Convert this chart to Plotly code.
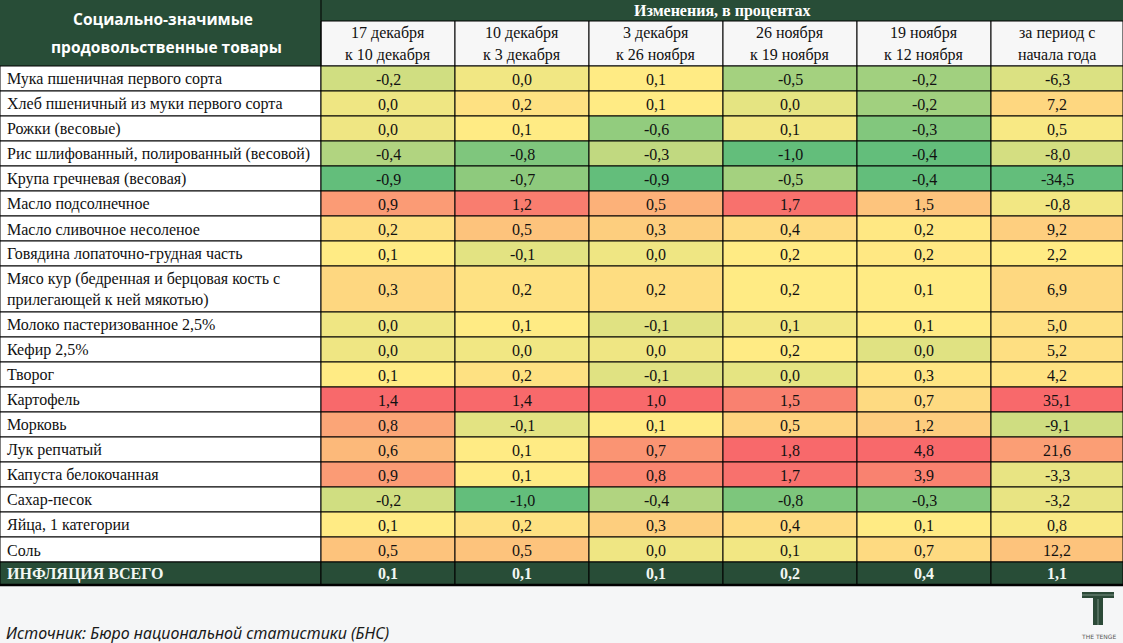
import numpy as np
import plotly.graph_objects as go

# ---------------- data ----------------
items = [
    "Мука пшеничная первого сорта",
    "Хлеб пшеничный из муки первого сорта",
    "Рожки (весовые)",
    "Рис шлифованный, полированный (весовой)",
    "Крупа гречневая (весовая)",
    "Масло подсолнечное",
    "Масло сливочное несоленое",
    "Говядина лопаточно-грудная часть",
    "Мясо кур (бедренная и берцовая кость с<br>прилегающей к ней мякотью)",
    "Молоко пастеризованное 2,5%",
    "Кефир 2,5%",
    "Творог",
    "Картофель",
    "Морковь",
    "Лук репчатый",
    "Капуста белокочанная",
    "Сахар-песок",
    "Яйца, 1 категории",
    "Соль",
]
period_line1 = ["17 декабря", "10 декабря", "3 декабря", "26 ноября", "19 ноября", "за период с"]
period_line2 = ["к 10 декабря", "к 3 декабря", "к 26 ноября", "к 19 ноября", "к 12 ноября", "начала года"]

dec17 = [-0.2, 0.0, 0.0, -0.4, -0.9, 0.9, 0.2, 0.1, 0.3, 0.0, 0.0, 0.1, 1.4, 0.8, 0.6, 0.9, -0.2, 0.1, 0.5]
dec10 = [0.0, 0.2, 0.1, -0.8, -0.7, 1.2, 0.5, -0.1, 0.2, 0.1, 0.0, 0.2, 1.4, -0.1, 0.1, 0.1, -1.0, 0.2, 0.5]
dec03 = [0.1, 0.1, -0.6, -0.3, -0.9, 0.5, 0.3, 0.0, 0.2, -0.1, 0.0, -0.1, 1.0, 0.1, 0.7, 0.8, -0.4, 0.3, 0.0]
nov26 = [-0.5, 0.0, 0.1, -1.0, -0.5, 1.7, 0.4, 0.2, 0.2, 0.1, 0.2, 0.0, 1.5, 0.5, 1.8, 1.7, -0.8, 0.4, 0.1]
nov19 = [-0.2, -0.2, -0.3, -0.4, -0.4, 1.5, 0.2, 0.2, 0.1, 0.1, 0.0, 0.3, 0.7, 1.2, 4.8, 3.9, -0.3, 0.1, 0.7]
ytd = [-6.3, 7.2, 0.5, -8.0, -34.5, -0.8, 9.2, 2.2, 6.9, 5.0, 5.2, 4.2, 35.1, -9.1, 21.6, -3.3, -3.2, 0.8, 12.2]
columns = [dec17, dec10, dec03, nov26, nov19, ytd]

total_label = "ИНФЛЯЦИЯ ВСЕГО"
total_values = [0.1, 0.1, 0.1, 0.2, 0.4, 1.1]

header_left = ["Социально-значимые", "продовольственные товары"]
header_top = "Изменения, в процентах"
source = "Источник: Бюро национальной статистики (БНС)"

# ---------------- style ----------------
W, H = 1123, 643
GREEN_DARK = "#284D37"
HDR2_BG = "#F7F7F7"
PAPER_BG = "#F5F6F7"
C_LOW, C_MID, C_HIGH = (99, 190, 123), (255, 235, 132), (248, 105, 107)
SERIF = "Liberation Serif"
SANS = "Open Sans"

col_w = [321, 134, 134, 134, 134, 134, 132]
x_edges = np.concatenate([[0], np.cumsum(col_w)])
hdr1_h, hdr2_h = 21, 45
single_h, double_h, total_h = 25, 46, 23


def fmt(v):
    return f"{v:.1f}".replace(".", ",")


def mix(a, b, t):
    return "rgb(%d,%d,%d)" % tuple(round(a[i] + (b[i] - a[i]) * t) for i in range(3))


def scale_color(v, lo, mid, hi):
    if v <= mid:
        t = 1.0 if mid == lo else (v - lo) / (mid - lo)
        return mix(C_LOW, C_MID, t)
    t = 0.0 if hi == mid else (v - mid) / (hi - mid)
    return mix(C_MID, C_HIGH, t)


shapes = []
annotations = []


def rect(x0, y0, x1, y1, fill, lw=1, lc="black"):
    shapes.append(dict(type="rect", xref="x", yref="y", x0=x0, y0=y0, x1=x1, y1=y1,
                       fillcolor=fill, line=dict(color=lc, width=lw), layer="above"))


def text(x, y, s, size=16, color="#111111", family=SERIF, xanchor="center", bold=False):
    annotations.append(dict(xref="x", yref="y", x=x, y=y, text=("<b>%s</b>" % s) if bold else s,
                            showarrow=False, xanchor=xanchor, yanchor="middle", align=xanchor,
                            font=dict(size=size, color=color, family=family)))


# header
top_h = hdr1_h + hdr2_h
rect(0, 0, x_edges[1], top_h, GREEN_DARK, lw=0)
rect(x_edges[1], 0, x_edges[-1], hdr1_h, GREEN_DARK, lw=0)
text(x_edges[1] / 2 + 2, 19, header_left[0], size=15.5, color="white", family=SANS, bold=True)
text(x_edges[1] / 2 + 6, 47, header_left[1], size=15.5, color="white", family=SANS, bold=True)
text((x_edges[1] + x_edges[-1]) / 2, 11, header_top, size=16, color="white", bold=True)
for j in range(6):
    x0, x1 = x_edges[j + 1], x_edges[j + 2]
    rect(x0, hdr1_h, x1, top_h, HDR2_BG)
    text((x0 + x1) / 2, hdr1_h + 11.5, period_line1[j])
    text((x0 + x1) / 2, hdr1_h + 33.5, period_line2[j])
shapes.append(dict(type="line", xref="x", yref="y", x0=x_edges[1], x1=x_edges[1], y0=0, y1=top_h,
                   line=dict(color="black", width=1), layer="above"))

# body
stats = [(min(c), float(np.percentile(c, 50)), max(c)) for c in columns]
y = top_h
for i, name in enumerate(items):
    h = double_h if "<br>" in name else single_h
    rect(0, y, x_edges[1], y + h, "white")
    text(5, y + h / 2 + 0.5, name, xanchor="left")
    for j, col in enumerate(columns):
        x0, x1 = x_edges[j + 1], x_edges[j + 2]
        rect(x0, y, x1, y + h, scale_color(col[i], *stats[j]))
        text((x0 + x1) / 2, y + h / 2 + 0.5, fmt(col[i]))
    y += h

# total row
rect(0, y, x_edges[1], y + total_h, GREEN_DARK)
text(5, y + total_h / 2, total_label, color="#F2F7F2", xanchor="left", bold=True)
for j, v in enumerate(total_values):
    x0, x1 = x_edges[j + 1], x_edges[j + 2]
    rect(x0, y, x1, y + total_h, GREEN_DARK)
    text((x0 + x1) / 2, y + total_h / 2, fmt(v), color="#F2F7F2", bold=True)
y += total_h
shapes.append(dict(type="line", xref="x", yref="y", x0=0, x1=W, y0=y, y1=y,
                   line=dict(color="black", width=2.5), layer="above"))
table_bottom = y

# white background under the table
shapes.insert(0, dict(type="rect", xref="x", yref="y", x0=0, y0=0, x1=W, y1=table_bottom,
                      fillcolor="white", line=dict(width=0), layer="below"))

# source
annotations.append(dict(xref="x", yref="y", x=4, y=633, text="<i>%s</i>" % source, showarrow=False,
                        xanchor="left", yanchor="middle",
                        font=dict(size=16, color="#1a1a1a", family="Noto Sans")))

# logo
LOGO = "#2C4A38"
rect(1082, 592, 1114, 598, LOGO, lw=0)
rect(1093, 598, 1103, 625, LOGO, lw=0)
shapes.append(dict(type="line", xref="x", yref="y", x0=1098, x1=1098, y0=599, y1=625,
                   line=dict(color="#AFC1B5", width=0.6), layer="above"))
shapes.append(dict(type="line", xref="x", yref="y", x0=1082, x1=1114, y0=595, y1=595,
                   line=dict(color="#AFC1B5", width=0.6), layer="above"))
annotations.append(dict(xref="x", yref="y", x=1098, y=636, text="THE TENGE", showarrow=False,
                        xanchor="center", yanchor="middle",
                        font=dict(size=6, color="#555555", family="DejaVu Sans")))

fig = go.Figure()
fig.add_trace(go.Scatter(x=[0, W], y=[0, H], mode="markers", marker=dict(opacity=0),
                         hoverinfo="skip", showlegend=False))
fig.update_layout(
    width=W, height=H, margin=dict(l=0, r=0, t=0, b=0),
    paper_bgcolor=PAPER_BG, plot_bgcolor=PAPER_BG,
    xaxis=dict(range=[0, W], visible=False, fixedrange=True),
    yaxis=dict(range=[H, 0], visible=False, fixedrange=True),
    shapes=shapes, annotations=annotations, showlegend=False,
)
fig.write_html("out.html", config={"displayModeBar": False},
               post_script="document.body.style.margin='0';document.body.style.overflow='hidden';")
